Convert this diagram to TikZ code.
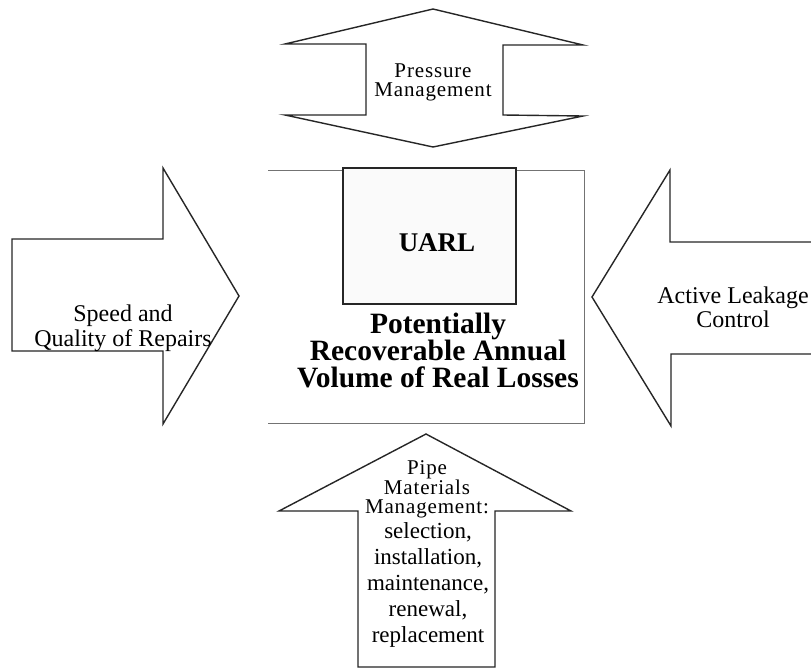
\documentclass[tikz,border=0pt]{standalone}
\usepackage{fontspec}
\setmainfont{Liberation Serif}
\usepackage{tikz}
\usetikzlibrary{positioning}
\tikzset{
  uarlBlockArrow/.style={draw=black!85, line width=1.4pt, line join=miter, fill=white},
  uarlFrame/.style={draw=black!55, line width=0.9pt},
  uarlCore/.style={draw=black!85, line width=1.7pt, fill=black!2},
  uarlLabel/.style={align=center, inner sep=0pt, font=\fontsize{24}{25}\selectfont},
  uarlBold/.style={align=center, inner sep=0pt, font=\bfseries\fontsize{29.5}{27}\selectfont}
}
\begin{document}
\begin{tikzpicture}[x=1pt, y=-1pt,
        smallLabel/.style={uarlLabel, font=\fontsize{21}{19}\selectfont\addfontfeatures{LetterSpace=4}},
        listLabel/.style={uarlLabel, font=\fontsize{23}{26}\selectfont}
      ]
      \useasboundingbox (0,0) rectangle (811,669);
      \clip (0,0) rectangle (811,669);

      % frame round the recoverable losses
      \draw[uarlFrame] (268,170) -- (584,170) -- (584,423) -- (268,423);
      \draw[uarlCore] (343,168) rectangle (516,304);
      \node[uarlBold, font=\bfseries\fontsize{27}{27}\selectfont] (uarlText) at (437,243) {UARL};
      \node[uarlBold] (lossesText) at (438,350) {Potentially\\Recoverable Annual\\Volume of Real Losses};

      % pressure management (up and down)
      \draw[uarlBlockArrow] (433,9) -- (583,45) -- (503,45) -- (503,115) -- (583,116) -- (433,147)
        -- (285,115) -- (366,115) -- (366,44) -- (285,44) -- cycle;
      \node[smallLabel] (pressureText) at (433,82) {Pressure\\Management};

      % speed and quality of repairs
      \draw[uarlBlockArrow] (12,239) -- (163,239) -- (163,168) -- (239,296) -- (163,424)
        -- (163,351) -- (12,351) -- cycle;
      \node[uarlLabel] (speedText) at (123,328) {Speed and\\Quality of Repairs};

      % active leakage control
      \draw[uarlBlockArrow] (815,242) -- (670,242) -- (670,170) -- (592,297) -- (671,426)
        -- (671,354) -- (815,354);
      \node[uarlLabel, font=\fontsize{24}{24}\selectfont] (activeText) at (733,307) {Active Leakage\\Control};

      % pipe materials management
      \draw[uarlBlockArrow] (426,434) -- (571,511) -- (495,511) -- (495,667) -- (358,667)
        -- (358,511) -- (279,511) -- cycle;
      \node[smallLabel] (pipeHead) at (427,489) {Pipe\\Materials\\Management:};
      \node[listLabel] (pipeList) at (428,585) {selection,\\installation,\\maintenance,\\renewal,\\replacement};
    \end{tikzpicture}
\end{document}
